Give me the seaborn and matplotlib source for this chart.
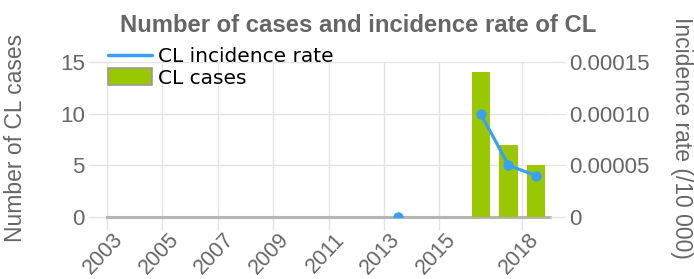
import numpy as np
import pandas as pd
import matplotlib
matplotlib.use("Agg")
import matplotlib.pyplot as plt
import matplotlib.transforms as mtransforms
from matplotlib.lines import Line2D
from matplotlib.patches import Patch
import seaborn as sns

# ---- data ----
years = [2003, 2004, 2005, 2006, 2007, 2008, 2009, 2010,
         2011, 2012, 2013, 2014, 2015, 2016, 2017, 2018]
cl_cases = [0, 0, 0, 0, 0, 0, 0, 0, 0, 0, 0, 0, 0, 14, 7, 5]
incidence_rate = [np.nan, np.nan, np.nan, np.nan, np.nan, np.nan, np.nan, np.nan,
                  np.nan, np.nan, 0.0, np.nan, np.nan, 0.00010, 0.00005, 0.00004]
x_tick_years = [2003, 2005, 2007, 2009, 2011, 2013, 2015, 2018]
left_ticks = [0, 5, 10, 15]
right_ticks = [0, 0.00005, 0.00010, 0.00015]
right_tick_labels = ["0", "0.00005", "0.00010", "0.00015"]

title = "Number of cases and incidence rate of CL"
left_label = "Number of CL cases"
right_label = "Incidence rate (/10 000)"
legend_labels = ["CL incidence rate", "CL cases"]

# ---- style ----
sns.set_style("white")
plt.rcParams["font.family"] = ["Liberation Sans", "DejaVu Sans"]
GRAY = "#666666"
GRID = "#e3e3e3"
GREEN = "#99c800"
BLUE = "#3aa0f5"

W, H = 694, 279
fig = plt.figure(figsize=(W / 100, H / 100), dpi=100)
L, R, T, B = 107, 550, 62, 217
ax = fig.add_axes([L / W, 1 - B / H, (R - L) / W, (B - T) / H])

# mid-year placement of the values
df = pd.DataFrame({"year": years, "cases": cl_cases, "rate": incidence_rate})
df["xpos"] = df["year"] + 0.5

sns.barplot(data=df, x="xpos", y="cases", native_scale=True, color=GREEN,
            saturation=1, width=0.67, linewidth=0, ax=ax, zorder=3)

ax2 = ax.twinx()
rate_df = df.copy()
rate_df["segment"] = rate_df["rate"].isna().cumsum()
rate_df = rate_df.dropna(subset=["rate"])
sns.lineplot(data=rate_df, x="xpos", y="rate", units="segment", estimator=None,
             color=BLUE, linewidth=2.3, marker="o", markersize=7.5,
             markeredgewidth=0, ax=ax2, legend=False)

# axes setup
ax.set_xlim(2003, 2019)
ax.set_ylim(0, 15)
ax2.set_ylim(0, 0.00015)
ax.set_xticks(x_tick_years)
ax.set_xticklabels([str(y) for y in x_tick_years], rotation=47, ha="right",
                   va="center", rotation_mode="anchor", fontsize=15.5, color=GRAY)
ax.set_yticks(left_ticks)
ax.set_yticklabels([str(v) for v in left_ticks], fontsize=16, color=GRAY)
ax2.set_yticks(right_ticks)
ax2.set_yticklabels(right_tick_labels, fontsize=16, color=GRAY)

ax.set_xlabel("")
ax.set_ylabel("")
ax2.set_xlabel("")
ax2.set_ylabel("")

ax.grid(True, color=GRID, linewidth=1.0, zorder=0)
ax.set_axisbelow(True)
ax2.grid(False)
for s in ["top", "left", "right"]:
    ax.spines[s].set_visible(False)
    ax2.spines[s].set_visible(False)
ax2.spines["bottom"].set_visible(False)
ax.spines["bottom"].set_color("#b5b5b5")
ax.spines["bottom"].set_linewidth(2.2)
ax.spines["bottom"].set_zorder(2)

ax.tick_params(axis="y", length=14, width=1, color=GRID, pad=2, left=True)
ax.tick_params(axis="x", length=9, width=1, color=GRID, pad=5, bottom=True)
ax2.tick_params(axis="y", length=11, width=1, color=GRID, pad=3, right=True)

# shift rotated x labels a bit to the right
offset = mtransforms.ScaledTranslation(13 / 100, 0, fig.dpi_scale_trans)
for lab in ax.get_xticklabels():
    lab.set_transform(lab.get_transform() + offset)

fig.text(358 / W, 1 - 26 / H, title, ha="center", va="center",
         fontsize=17.2, fontweight="bold", color=GRAY)
fig.text(16 / W, 1 - 138 / H, left_label, rotation=90, ha="center",
         va="center", fontsize=16.5, color=GRAY)
fig.text(681 / W, 1 - 138 / H, right_label, rotation=-90, ha="center",
         va="center", fontsize=16.5, color=GRAY)

handles = [Line2D([0], [0], color=BLUE, linewidth=2.5),
           Patch(facecolor=GREEN, edgecolor="#999999", linewidth=1.2)]
fig.legend(handles=handles, labels=legend_labels, loc="upper left",
           bbox_to_anchor=(108 / W, 1 - 47 / H), frameon=False,
           prop={"family": ["DejaVu Sans"], "size": 14.5},
           handlelength=2.2, handleheight=0.9, handletextpad=0.3,
           labelspacing=0.1, borderpad=0, borderaxespad=0, labelcolor="black")

fig.savefig("out.png", dpi=100)
